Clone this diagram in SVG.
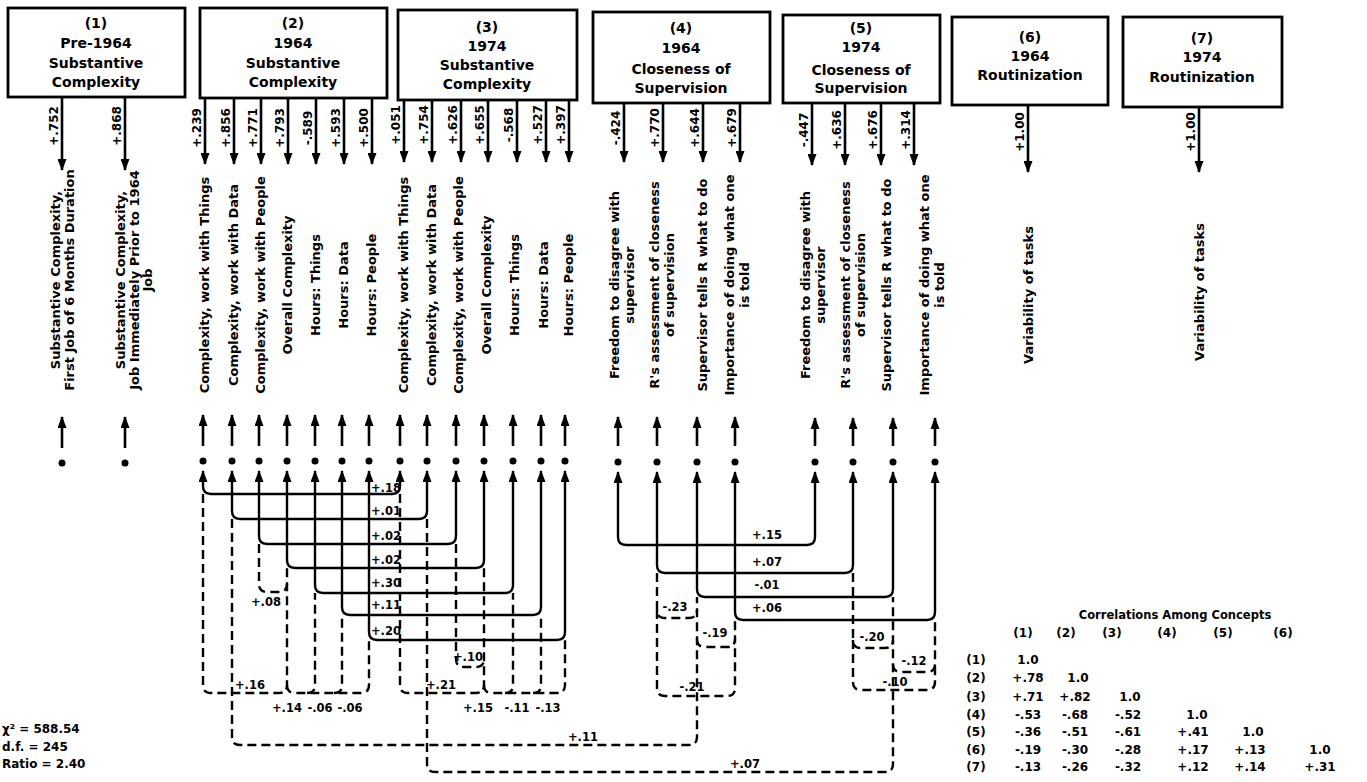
<svg xmlns="http://www.w3.org/2000/svg" width="1367" height="782" viewBox="0 0 1367 782">
<defs>
<marker id="ah" viewBox="0 0 12 9" refX="11" refY="4.5" markerWidth="12" markerHeight="9" markerUnits="userSpaceOnUse" orient="auto-start-reverse"><path d="M0,0 L12,4.5 L0,9 z" fill="#000"/></marker>
<style>
.bx{fill:#fff;stroke:#000;stroke-width:2.8}
text{font-family:"DejaVu Sans","Liberation Sans",sans-serif;font-weight:bold;fill:#000}
.ti{font-size:14px;text-anchor:middle}
.lb{font-size:13px;text-anchor:middle}
.ld{font-size:12px;text-anchor:middle}
.cl{font-size:11.5px;text-anchor:middle}
.mx{font-size:12px;text-anchor:middle}
.fit{font-size:12px}
.ar{stroke:#000;stroke-width:2.6;fill:none;marker-end:url(#ah)}
.sc{stroke:#000;stroke-width:2.4;fill:none;marker-start:url(#ah);marker-end:url(#ah)}
.ds{stroke:#000;stroke-width:2.4;fill:none;stroke-dasharray:9 5}
.dot{fill:#000}
</style>
</defs>

<g id="concept1">
<rect class="bx" x="8" y="8" width="177" height="89"/>
<text class="ti" x="96" y="28">(1)</text>
<text class="ti" x="96" y="48">Pre-1964</text>
<text class="ti" x="96" y="68">Substantive</text>
<text class="ti" x="96" y="87">Complexity</text>
</g>
<g id="concept2">
<rect class="bx" x="200" y="8" width="187" height="90"/>
<text class="ti" x="293" y="28">(2)</text>
<text class="ti" x="293" y="48">1964</text>
<text class="ti" x="293" y="68">Substantive</text>
<text class="ti" x="293" y="87">Complexity</text>
</g>
<g id="concept3">
<rect class="bx" x="398" y="10" width="179" height="90"/>
<text class="ti" x="487" y="32">(3)</text>
<text class="ti" x="487" y="51">1974</text>
<text class="ti" x="487" y="70">Substantive</text>
<text class="ti" x="487" y="89">Complexity</text>
</g>
<g id="concept4">
<rect class="bx" x="593" y="12" width="177" height="91"/>
<text class="ti" x="681" y="33">(4)</text>
<text class="ti" x="681" y="53">1964</text>
<text class="ti" x="681" y="74">Closeness of</text>
<text class="ti" x="681" y="93">Supervision</text>
</g>
<g id="concept5">
<rect class="bx" x="783" y="15" width="157" height="88"/>
<text class="ti" x="861" y="33">(5)</text>
<text class="ti" x="861" y="52">1974</text>
<text class="ti" x="861" y="75">Closeness of</text>
<text class="ti" x="861" y="93">Supervision</text>
</g>
<g id="concept6">
<rect class="bx" x="952" y="17" width="156" height="88"/>
<text class="ti" x="1030" y="42">(6)</text>
<text class="ti" x="1030" y="61">1964</text>
<text class="ti" x="1030" y="80">Routinization</text>
</g>
<g id="concept7">
<rect class="bx" x="1123" y="17" width="159" height="90"/>
<text class="ti" x="1202" y="43">(7)</text>
<text class="ti" x="1202" y="62">1974</text>
<text class="ti" x="1202" y="82">Routinization</text>
</g>

<g id="loadings">
<line class="ar" x1="62" y1="97" x2="62" y2="170"/>
<line class="ar" x1="125" y1="97" x2="125" y2="170"/>
<line class="ar" x1="205" y1="98" x2="205" y2="164"/>
<line class="ar" x1="234" y1="98" x2="234" y2="164"/>
<line class="ar" x1="261" y1="98" x2="261" y2="164"/>
<line class="ar" x1="288" y1="98" x2="288" y2="164"/>
<line class="ar" x1="316" y1="98" x2="316" y2="164"/>
<line class="ar" x1="344" y1="98" x2="344" y2="164"/>
<line class="ar" x1="372" y1="98" x2="372" y2="164"/>
<line class="ar" x1="404" y1="100" x2="404" y2="162"/>
<line class="ar" x1="432" y1="100" x2="432" y2="162"/>
<line class="ar" x1="461" y1="100" x2="461" y2="162"/>
<line class="ar" x1="488" y1="100" x2="488" y2="162"/>
<line class="ar" x1="517" y1="100" x2="517" y2="162"/>
<line class="ar" x1="546" y1="100" x2="546" y2="162"/>
<line class="ar" x1="569" y1="100" x2="569" y2="162"/>
<line class="ar" x1="624" y1="103" x2="624" y2="162"/>
<line class="ar" x1="663" y1="103" x2="663" y2="162"/>
<line class="ar" x1="703" y1="103" x2="703" y2="162"/>
<line class="ar" x1="740" y1="103" x2="740" y2="162"/>
<line class="ar" x1="812" y1="103" x2="812" y2="165"/>
<line class="ar" x1="845" y1="103" x2="845" y2="165"/>
<line class="ar" x1="881" y1="103" x2="881" y2="165"/>
<line class="ar" x1="914" y1="103" x2="914" y2="165"/>
<line class="ar" x1="1028" y1="105" x2="1028" y2="172"/>
<line class="ar" x1="1199" y1="107" x2="1199" y2="172"/>
<text class="ld" transform="translate(58,126) rotate(-90)">+.752</text>
<text class="ld" transform="translate(121,126) rotate(-90)">+.868</text>
<text class="ld" transform="translate(201,128) rotate(-90)">+.239</text>
<text class="ld" transform="translate(230,128) rotate(-90)">+.856</text>
<text class="ld" transform="translate(257,128) rotate(-90)">+.771</text>
<text class="ld" transform="translate(284,128) rotate(-90)">+.793</text>
<text class="ld" transform="translate(312,128) rotate(-90)">-.589</text>
<text class="ld" transform="translate(340,128) rotate(-90)">+.593</text>
<text class="ld" transform="translate(368,128) rotate(-90)">+.500</text>
<text class="ld" transform="translate(400,125) rotate(-90)">+.051</text>
<text class="ld" transform="translate(428,125) rotate(-90)">+.754</text>
<text class="ld" transform="translate(457,125) rotate(-90)">+.626</text>
<text class="ld" transform="translate(484,125) rotate(-90)">+.655</text>
<text class="ld" transform="translate(513,125) rotate(-90)">-.568</text>
<text class="ld" transform="translate(542,125) rotate(-90)">+.527</text>
<text class="ld" transform="translate(565,125) rotate(-90)">+.397</text>
<text class="ld" transform="translate(620,128) rotate(-90)">-.424</text>
<text class="ld" transform="translate(659,128) rotate(-90)">+.770</text>
<text class="ld" transform="translate(699,128) rotate(-90)">+.644</text>
<text class="ld" transform="translate(736,128) rotate(-90)">+.679</text>
<text class="ld" transform="translate(808,130) rotate(-90)">-.447</text>
<text class="ld" transform="translate(841,130) rotate(-90)">+.636</text>
<text class="ld" transform="translate(877,130) rotate(-90)">+.676</text>
<text class="ld" transform="translate(910,130) rotate(-90)">+.314</text>
<text class="ld" transform="translate(1024,132) rotate(-90)">+1.00</text>
<text class="ld" transform="translate(1195,132) rotate(-90)">+1.00</text>
</g>

<g id="indicators1">
<text class="lb" transform="translate(60,280) rotate(-90)">Substantive Complexity,</text>
<text class="lb" transform="translate(74,280) rotate(-90)">First Job of 6 Months Duration</text>
<text class="lb" transform="translate(125,280) rotate(-90)">Substantive Complexity,</text>
<text class="lb" transform="translate(139,280) rotate(-90)">Job Immediately Prior to 1964</text>
<text class="lb" transform="translate(152,280) rotate(-90)">Job</text>
</g>
<g id="indicators2">
<text class="lb" transform="translate(209,285) rotate(-90)">Complexity, work with Things</text>
<text class="lb" transform="translate(238,285) rotate(-90)">Complexity, work with Data</text>
<text class="lb" transform="translate(265,285) rotate(-90)">Complexity, work with People</text>
<text class="lb" transform="translate(292,285) rotate(-90)">Overall Complexity</text>
<text class="lb" transform="translate(320,285) rotate(-90)">Hours: Things</text>
<text class="lb" transform="translate(348,285) rotate(-90)">Hours: Data</text>
<text class="lb" transform="translate(376,285) rotate(-90)">Hours: People</text>
</g>
<g id="indicators3">
<text class="lb" transform="translate(408,285) rotate(-90)">Complexity, work with Things</text>
<text class="lb" transform="translate(436,285) rotate(-90)">Complexity, work with Data</text>
<text class="lb" transform="translate(463,285) rotate(-90)">Complexity, work with People</text>
<text class="lb" transform="translate(491,285) rotate(-90)">Overall Complexity</text>
<text class="lb" transform="translate(519,285) rotate(-90)">Hours: Things</text>
<text class="lb" transform="translate(548,285) rotate(-90)">Hours: Data</text>
<text class="lb" transform="translate(573,285) rotate(-90)">Hours: People</text>
</g>
<g id="indicators4">
<text class="lb" transform="translate(619,285) rotate(-90)">Freedom to disagree with</text>
<text class="lb" transform="translate(634,285) rotate(-90)">supervisor</text>
<text class="lb" transform="translate(659,285) rotate(-90)">R's assessment of closeness</text>
<text class="lb" transform="translate(674,285) rotate(-90)">of supervision</text>
<text class="lb" transform="translate(707,285) rotate(-90)">Supervisor tells R what to do</text>
<text class="lb" transform="translate(734,285) rotate(-90)">Importance of doing what one</text>
<text class="lb" transform="translate(749,285) rotate(-90)">is told</text>
</g>
<g id="indicators5">
<text class="lb" transform="translate(810,285) rotate(-90)">Freedom to disagree with</text>
<text class="lb" transform="translate(825,285) rotate(-90)">supervisor</text>
<text class="lb" transform="translate(850,285) rotate(-90)">R's assessment of closeness</text>
<text class="lb" transform="translate(865,285) rotate(-90)">of supervision</text>
<text class="lb" transform="translate(891,285) rotate(-90)">Supervisor tells R what to do</text>
<text class="lb" transform="translate(929,285) rotate(-90)">Importance of doing what one</text>
<text class="lb" transform="translate(944,285) rotate(-90)">is told</text>
</g>
<g id="indicators6">
<text class="lb" transform="translate(1033,295) rotate(-90)">Variability of tasks</text>
</g>
<g id="indicators7">
<text class="lb" transform="translate(1204,292) rotate(-90)">Variability of tasks</text>
</g>

<g id="errors">
<line class="ar" x1="62" y1="448" x2="62" y2="417"/>
<line class="ar" x1="125" y1="448" x2="125" y2="417"/>
<line class="ar" x1="203" y1="446" x2="203" y2="415"/>
<line class="ar" x1="232" y1="446" x2="232" y2="415"/>
<line class="ar" x1="259" y1="446" x2="259" y2="415"/>
<line class="ar" x1="287" y1="446" x2="287" y2="415"/>
<line class="ar" x1="315" y1="446" x2="315" y2="415"/>
<line class="ar" x1="342" y1="446" x2="342" y2="415"/>
<line class="ar" x1="369" y1="446" x2="369" y2="415"/>
<line class="ar" x1="400" y1="446" x2="400" y2="415"/>
<line class="ar" x1="427" y1="446" x2="427" y2="415"/>
<line class="ar" x1="456" y1="446" x2="456" y2="415"/>
<line class="ar" x1="484" y1="446" x2="484" y2="415"/>
<line class="ar" x1="513" y1="446" x2="513" y2="415"/>
<line class="ar" x1="541" y1="446" x2="541" y2="415"/>
<line class="ar" x1="565" y1="446" x2="565" y2="415"/>
<line class="ar" x1="618" y1="446" x2="618" y2="417"/>
<line class="ar" x1="657" y1="446" x2="657" y2="417"/>
<line class="ar" x1="697" y1="446" x2="697" y2="417"/>
<line class="ar" x1="735" y1="446" x2="735" y2="417"/>
<line class="ar" x1="815" y1="446" x2="815" y2="418"/>
<line class="ar" x1="853" y1="446" x2="853" y2="418"/>
<line class="ar" x1="893" y1="446" x2="893" y2="418"/>
<line class="ar" x1="935" y1="446" x2="935" y2="418"/>
<circle class="dot" cx="62" cy="463" r="3.5"/>
<circle class="dot" cx="125" cy="463" r="3.5"/>
<circle class="dot" cx="203" cy="461" r="3.5"/>
<circle class="dot" cx="232" cy="461" r="3.5"/>
<circle class="dot" cx="259" cy="461" r="3.5"/>
<circle class="dot" cx="287" cy="461" r="3.5"/>
<circle class="dot" cx="315" cy="461" r="3.5"/>
<circle class="dot" cx="342" cy="461" r="3.5"/>
<circle class="dot" cx="369" cy="461" r="3.5"/>
<circle class="dot" cx="400" cy="461" r="3.5"/>
<circle class="dot" cx="427" cy="461" r="3.5"/>
<circle class="dot" cx="456" cy="461" r="3.5"/>
<circle class="dot" cx="484" cy="461" r="3.5"/>
<circle class="dot" cx="513" cy="461" r="3.5"/>
<circle class="dot" cx="541" cy="461" r="3.5"/>
<circle class="dot" cx="565" cy="461" r="3.5"/>
<circle class="dot" cx="618" cy="462" r="3.5"/>
<circle class="dot" cx="657" cy="462" r="3.5"/>
<circle class="dot" cx="697" cy="462" r="3.5"/>
<circle class="dot" cx="735" cy="462" r="3.5"/>
<circle class="dot" cx="815" cy="462" r="3.5"/>
<circle class="dot" cx="853" cy="462" r="3.5"/>
<circle class="dot" cx="893" cy="462" r="3.5"/>
<circle class="dot" cx="935" cy="462" r="3.5"/>
</g>

<g id="connectors">
<path class="sc" d="M203 471 V486 Q203 494 211 494 H392 Q400 494 400 486 V471"/>
<path class="sc" d="M232 471 V511 Q232 519 240 519 H419 Q427 519 427 511 V471"/>
<path class="sc" d="M259 471 V536 Q259 544 267 544 H448 Q456 544 456 536 V471"/>
<path class="sc" d="M287 471 V560 Q287 568 295 568 H476 Q484 568 484 560 V471"/>
<path class="sc" d="M315 471 V585 Q315 593 323 593 H505 Q513 593 513 585 V471"/>
<path class="sc" d="M342 471 V607 Q342 615 350 615 H533 Q541 615 541 607 V471"/>
<path class="sc" d="M369 471 V632 Q369 640 377 640 H557 Q565 640 565 632 V471"/>
<path class="sc" d="M618 472 V537 Q618 545 626 545 H807 Q815 545 815 537 V472"/>
<path class="sc" d="M657 472 V565 Q657 573 665 573 H845 Q853 573 853 565 V472"/>
<path class="sc" d="M697 472 V589 Q697 597 705 597 H885 Q893 597 893 589 V472"/>
<path class="sc" d="M735 472 V612 Q735 620 743 620 H927 Q935 620 935 612 V472"/>
<path class="ds" d="M203 494 V685 Q203 693 211 693 H279 Q287 693 287 685 V568"/>
<path class="ds" d="M287 685 Q287 693 295 693 H361 Q369 693 369 685 V640"/>
<path class="ds" d="M307 693 Q315 693 315 685 V593"/>
<path class="ds" d="M334 693 Q342 693 342 685 V615"/>
<path class="ds" d="M259 544 V584 Q259 592 267 592 H279 Q287 592 287 584"/>
<path class="ds" d="M232 519 V737 Q232 745 240 745 H689 Q697 745 697 737 V597"/>
<path class="ds" d="M400 494 V685 Q400 693 408 693 H476 Q484 693 484 685 V568"/>
<path class="ds" d="M484 685 Q484 693 492 693 H557 Q565 693 565 685 V640"/>
<path class="ds" d="M505 693 Q513 693 513 685 V593"/>
<path class="ds" d="M533 693 Q541 693 541 685 V615"/>
<path class="ds" d="M456 544 V659 Q456 667 464 667 H476 Q484 667 484 659"/>
<path class="ds" d="M427 519 V764 Q427 772 435 772 H885 Q893 772 893 764 V597"/>
<path class="ds" d="M657 573 V610 Q657 618 665 618 H689 Q697 618 697 610"/>
<path class="ds" d="M697 639 Q697 647 705 647 H727 Q735 647 735 639 V620"/>
<path class="ds" d="M657 610 V688 Q657 696 665 696 H727 Q735 696 735 688 V639"/>
<path class="ds" d="M853 573 V640 Q853 648 861 648 H885 Q893 648 893 640"/>
<path class="ds" d="M893 664 Q893 672 901 672 H927 Q935 672 935 664 V620"/>
<path class="ds" d="M853 640 V682 Q853 690 861 690 H927 Q935 690 935 682 V664"/>
</g>

<g id="connector-labels">
<text class="cl" x="386" y="492">+.18</text>
<text class="cl" x="386" y="515">+.01</text>
<text class="cl" x="386" y="540">+.02</text>
<text class="cl" x="386" y="564">+.02</text>
<text class="cl" x="386" y="587">+.30</text>
<text class="cl" x="386" y="609">+.11</text>
<text class="cl" x="386" y="635">+.20</text>
<text class="cl" x="266" y="606">+.08</text>
<text class="cl" x="250" y="689">+.16</text>
<text class="cl" x="287" y="712">+.14</text>
<text class="cl" x="320" y="712">-.06</text>
<text class="cl" x="350" y="712">-.06</text>
<text class="cl" x="441" y="689">+.21</text>
<text class="cl" x="468" y="661">+.10</text>
<text class="cl" x="478" y="712">+.15</text>
<text class="cl" x="517" y="712">-.11</text>
<text class="cl" x="548" y="712">-.13</text>
<text class="cl" x="583" y="741">+.11</text>
<text class="cl" x="745" y="768">+.07</text>
<text class="cl" x="767" y="539">+.15</text>
<text class="cl" x="767" y="566">+.07</text>
<text class="cl" x="767" y="589">-.01</text>
<text class="cl" x="767" y="612">+.06</text>
<text class="cl" x="675" y="611">-.23</text>
<text class="cl" x="715" y="637">-.19</text>
<text class="cl" x="692" y="691">-.21</text>
<text class="cl" x="872" y="641">-.20</text>
<text class="cl" x="914" y="665">-.12</text>
<text class="cl" x="895" y="686">-.10</text>
</g>

<g id="fit">
<text class="fit" x="2" y="733">χ² = 588.54</text>
<text class="fit" x="2" y="751">d.f. = 245</text>
<text class="fit" x="2" y="768">Ratio = 2.40</text>
</g>

<g id="correlations">
<text style="font-size:11.5px;text-anchor:middle" x="1175" y="619">Correlations Among Concepts</text>
<text class="mx" x="1023" y="637">(1)</text>
<text class="mx" x="1066" y="637">(2)</text>
<text class="mx" x="1112" y="637">(3)</text>
<text class="mx" x="1167" y="637">(4)</text>
<text class="mx" x="1223" y="637">(5)</text>
<text class="mx" x="1283" y="637">(6)</text>
<text class="mx" x="976" y="664">(1)</text>
<text class="mx" x="976" y="682">(2)</text>
<text class="mx" x="976" y="701">(3)</text>
<text class="mx" x="976" y="719">(4)</text>
<text class="mx" x="976" y="736">(5)</text>
<text class="mx" x="976" y="754">(6)</text>
<text class="mx" x="976" y="771">(7)</text>
<text class="mx" x="1028" y="664">1.0</text>
<text class="mx" x="1028" y="682">+.78</text>
<text class="mx" x="1078" y="682">1.0</text>
<text class="mx" x="1028" y="701">+.71</text>
<text class="mx" x="1075" y="701">+.82</text>
<text class="mx" x="1130" y="701">1.0</text>
<text class="mx" x="1028" y="719">-.53</text>
<text class="mx" x="1075" y="719">-.68</text>
<text class="mx" x="1128" y="719">-.52</text>
<text class="mx" x="1197" y="719">1.0</text>
<text class="mx" x="1028" y="736">-.36</text>
<text class="mx" x="1075" y="736">-.51</text>
<text class="mx" x="1128" y="736">-.61</text>
<text class="mx" x="1193" y="736">+.41</text>
<text class="mx" x="1253" y="736">1.0</text>
<text class="mx" x="1028" y="754">-.19</text>
<text class="mx" x="1075" y="754">-.30</text>
<text class="mx" x="1128" y="754">-.28</text>
<text class="mx" x="1193" y="754">+.17</text>
<text class="mx" x="1250" y="754">+.13</text>
<text class="mx" x="1320" y="754">1.0</text>
<text class="mx" x="1028" y="771">-.13</text>
<text class="mx" x="1075" y="771">-.26</text>
<text class="mx" x="1128" y="771">-.32</text>
<text class="mx" x="1193" y="771">+.12</text>
<text class="mx" x="1250" y="771">+.14</text>
<text class="mx" x="1320" y="771">+.31</text>
</g>
</svg>
